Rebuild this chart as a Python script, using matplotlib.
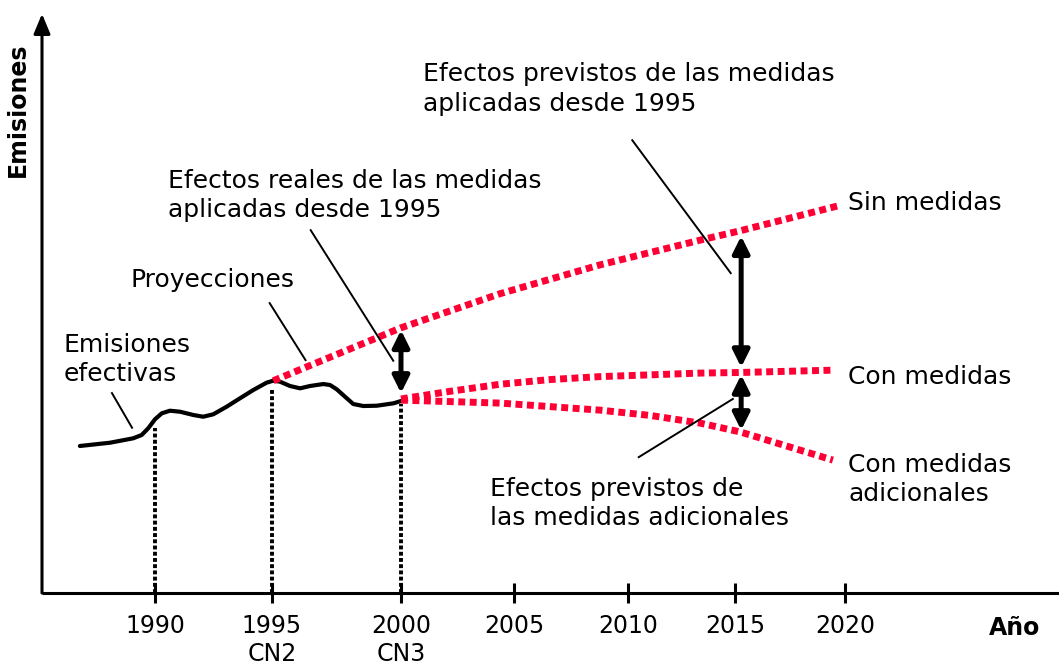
import matplotlib
matplotlib.use("Agg")
import matplotlib.pyplot as plt
import numpy as np

plt.rcParams['font.family'] = ['DejaVu Sans']

# emisiones efectivas (año, índice de emisiones)
hist_years = [1986.79, 1988.08, 1989.07, 1989.43, 1989.71, 1990.00, 1990.29, 1990.64,
              1991.07, 1991.64, 1992.06, 1992.49, 1993.06, 1993.63, 1994.20, 1994.77,
              1995.05, 1995.31, 1995.70, 1996.09, 1996.47, 1996.99, 1997.25, 1997.51,
              1997.90, 1998.15, 1998.54, 1999.06, 1999.71, 2000.0]
hist_vals = [25.0, 25.56, 26.31, 26.87, 28.01, 29.54, 30.56, 31.00,
             30.83, 30.27, 29.98, 30.39, 31.68, 33.11, 34.52, 35.77,
             36.11, 35.94, 35.20, 34.81, 35.20, 35.54, 35.37, 34.64,
             33.11, 32.14, 31.80, 31.85, 32.26, 32.65]

# proyecciones
sin_years = [1995.05, 2000, 2004.38, 2008.77, 2013.36, 2015.23, 2019.64]
sin_vals = [36.1, 45.1, 50.9, 55.8, 60.0, 61.6, 65.8]
con_years = [2000, 2002.17, 2004.38, 2006.58, 2008.77, 2011.03, 2013.36, 2015.23, 2019.45]
con_vals = [33.0, 34.3, 35.5, 36.3, 36.8, 37.1, 37.4, 37.5, 37.9]
adic_years = [2000, 2004.38, 2006.58, 2008.77, 2011.03, 2013.36, 2015.23, 2019.45]
adic_vals = [32.8, 32.3, 31.7, 31.1, 30.2, 28.9, 27.4, 22.6]

# líneas verticales (comunicaciones nacionales)
cn_years = [1990, 1995, 2000]
cn_tops = [28.1, 34.9, 32.1]

tick_years = [1990, 1995, 2000, 2005, 2010, 2015, 2020]
tick_labels = ['1990', '1995\nCN2', '2000\nCN3', '2005', '2010', '2015', '2020']

# el eje de años del dibujo original no es regular
scale_years = [1980, 1990, 1995, 2000, 2005, 2010, 2015, 2020, 2035]
scale_pos = [-79, 155, 272, 401, 514, 628, 735, 845, 1175]


def fwd(x):
    return np.interp(x, scale_years, scale_pos)


def inv(p):
    return np.interp(p, scale_pos, scale_years)


RED = '#ff0035'
FS = 18

fig = plt.figure(figsize=(10.59, 6.70), dpi=100)
ax = fig.add_axes([42 / 1059, 77 / 670, 1017 / 1059, 588 / 670])
ax.set_xscale('function', functions=(fwd, inv))
ax.set_xlim(inv(42), inv(1059))
ax.set_ylim(0, 100)

# ejes con flecha
for s in ax.spines.values():
    s.set_visible(False)
ax.annotate('', xy=(0, 0.985), xytext=(0, 0), xycoords='axes fraction',
            arrowprops=dict(arrowstyle='-|>,head_length=0.6,head_width=0.25',
                            lw=2.2, color='black', shrinkA=0, shrinkB=0,
                            mutation_scale=20))
ax.plot([0, 1], [0, 0], color='black', lw=2.2, transform=ax.transAxes,
        clip_on=False, solid_capstyle='butt')

ax.set_yticks([])
ax.set_xticks(tick_years)
ax.set_xticklabels(tick_labels, fontsize=17, linespacing=1.2, va='top')
ax.xaxis.set_minor_locator(plt.NullLocator())
ax.tick_params(axis='x', direction='inout', length=14, width=2.2, pad=8)

# curvas
ax.vlines(cn_years, 0, cn_tops, colors='black', lw=2.8, linestyles=(0, (1.0, 0.6)))
ax.plot(hist_years, hist_vals, color='black', lw=3, solid_capstyle='round',
        solid_joinstyle='round')
for yrs, vals in [(sin_years, sin_vals), (con_years, con_vals), (adic_years, adic_vals)]:
    ax.plot(yrs, vals, color=RED, lw=5, linestyle=(0, (1.0, 0.65)),
            dash_capstyle='butt')

# flechas dobles
astyle = dict(arrowstyle='<|-|>,head_length=0.5,head_width=0.25', lw=3.6,
              color='black', shrinkA=0, shrinkB=0, mutation_scale=20)
ax.annotate('', xy=(2000, 44.7), xytext=(2000, 34.0), arrowprops=astyle)
ax.annotate('', xy=(2015.28, 60.7), xytext=(2015.28, 38.4), arrowprops=astyle)
ax.annotate('', xy=(2015.28, 37.1), xytext=(2015.28, 27.7), arrowprops=astyle)

# líneas guía
leaders = [((1988.16, 34.0), (1989.02, 28.1)),
           ((1994.9, 49.3), (1996.3, 39.6)),
           ((1996.5, 61.7), (1999.7, 39.5)),
           ((2010.2, 77.0), (2014.8, 54.4)),
           ((2010.5, 23.1), (2014.9, 33.0))]
for (x0, y0), (x1, y1) in leaders:
    ax.plot([x0, x1], [y0, y1], color='black', lw=1.4)

# textos
texts = [(2000.97, 85.7, 'Efectos previstos de las medidas\naplicadas desde 1995'),
         (1990.56, 67.6, 'Efectos reales de las medidas\naplicadas desde 1995'),
         (1988.97, 53.2, 'Proyecciones'),
         (1986.1, 39.7, 'Emisiones\nefectivas'),
         (2020.14, 66.3, 'Sin medidas'),
         (2020.14, 36.7, 'Con medidas'),
         (2020.14, 19.3, 'Con medidas\nadicionales'),
         (2003.94, 15.2, 'Efectos previstos de\nlas medidas adicionales')]
for x, y, t in texts:
    ax.text(x, y, t, fontsize=FS, ha='left', va='center', linespacing=1.3)

ax.text((1015 - 42) / 1017, -35 / 588, 'Año', transform=ax.transAxes,
        fontsize=17, fontweight='bold', ha='center', va='center', clip_on=False)
fig.text(18 / 1059, 1 - 110 / 670, 'Emisiones', rotation=90, fontsize=17,
         fontweight='bold', ha='center', va='center')

fig.savefig('out.png', dpi=100)
